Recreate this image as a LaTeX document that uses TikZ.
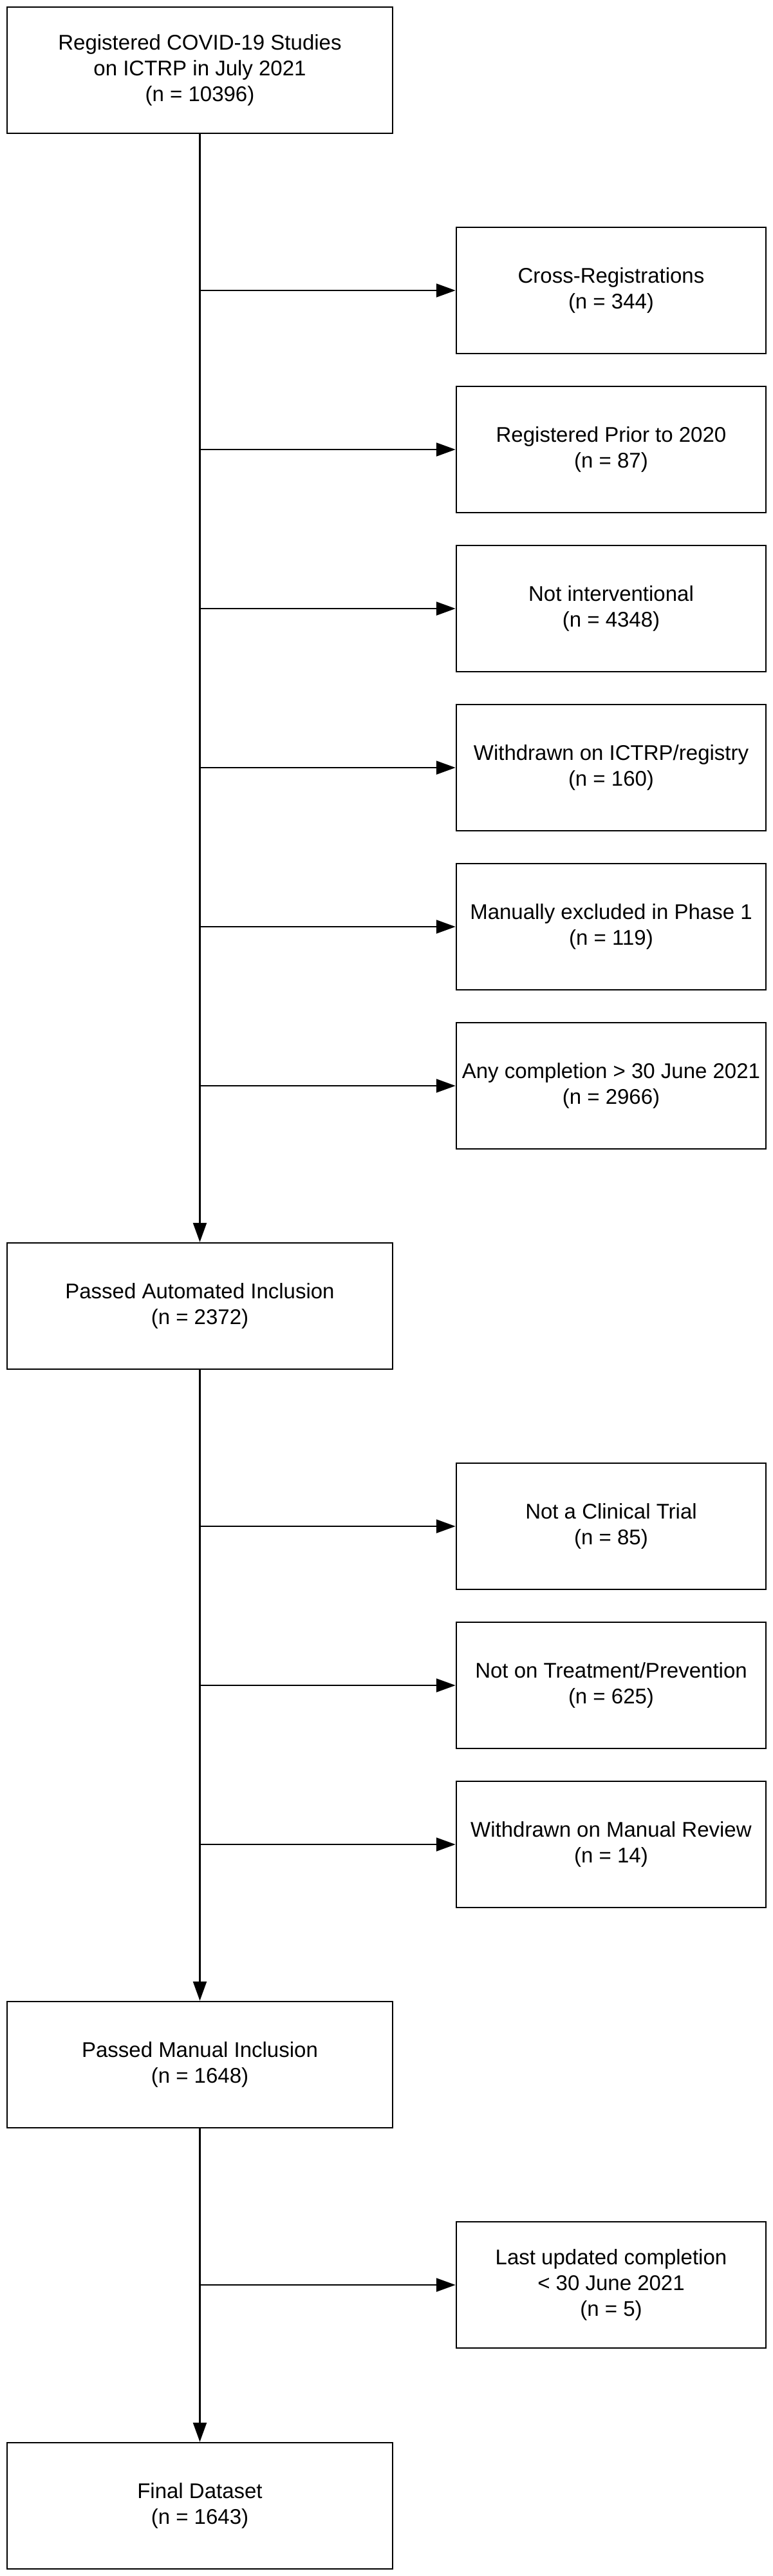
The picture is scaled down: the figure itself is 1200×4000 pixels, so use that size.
\documentclass[tikz,border=0pt]{standalone}
\usepackage{fontspec}
\setmainfont{Liberation Sans}
\usetikzlibrary{arrows.meta}
\begin{document}
\begin{tikzpicture}[x=1pt,y=-1pt,
  boxL/.style={draw=black,line width=2.5pt,rectangle,minimum width=599pt,minimum height=196pt,inner sep=0pt,align=center,font=\fontsize{33}{39.6}\selectfont},
  boxR/.style={boxL,minimum width=481pt},
  arr/.style={line width=2.5pt,-{Triangle[length=30pt,width=21pt]}},
  ln/.style={line width=2.5pt}]
\useasboundingbox[fill=white] (0,0) rectangle (1200,4000);
% main column
\node[boxL] (top) at (310.5,109) {Registered COVID-19 Studies\\on ICTRP in July 2021\\(n = 10396)};
\node[boxL] (pa) at (310.5,2028) {Passed Automated Inclusion\\(n = 2372)};
\node[boxL] (pm) at (310.5,3206) {Passed Manual Inclusion\\(n = 1648)};
\node[boxL] (fd) at (310.5,3891) {Final Dataset\\(n = 1643)};
% exclusions group 1
\node[boxR] (c1) at (949.5,451) {Cross-Registrations\\(n = 344)};
\node[boxR] (c2) at (949.5,698) {Registered Prior to 2020\\(n = 87)};
\node[boxR] (c3) at (949.5,945) {Not interventional\\(n = 4348)};
\node[boxR] (c4) at (949.5,1192) {Withdrawn on ICTRP/registry\\(n = 160)};
\node[boxR] (c5) at (949.5,1439) {Manually excluded in Phase 1\\(n = 119)};
\node[boxR] (c6) at (949.5,1686) {Any completion > 30 June 2021\\(n = 2966)};
% exclusions group 2
\node[boxR] (d1) at (949.5,2370) {Not a Clinical Trial\\(n = 85)};
\node[boxR] (d2) at (949.5,2617) {Not on Treatment/Prevention\\(n = 625)};
\node[boxR] (d3) at (949.5,2864) {Withdrawn on Manual Review\\(n = 14)};
% exclusion group 3
\node[boxR] (e1) at (949.5,3548) {Last updated completion\\< 30 June 2021\\(n = 5)};
% vertical connectors
\draw[arr] (top.south) -- (pa.north);
\draw[arr] (pa.south) -- (pm.north);
\draw[arr] (pm.south) -- (fd.north);
% horizontal connectors
\foreach \n in {c1,c2,c3,c4,c5,c6} {\draw[arr] (top.south |- \n.west) -- (\n.west);}
\foreach \n in {d1,d2,d3} {\draw[arr] (pa.south |- \n.west) -- (\n.west);}
\draw[arr] (pm.south |- e1.west) -- (e1.west);
\end{tikzpicture}
\end{document}
